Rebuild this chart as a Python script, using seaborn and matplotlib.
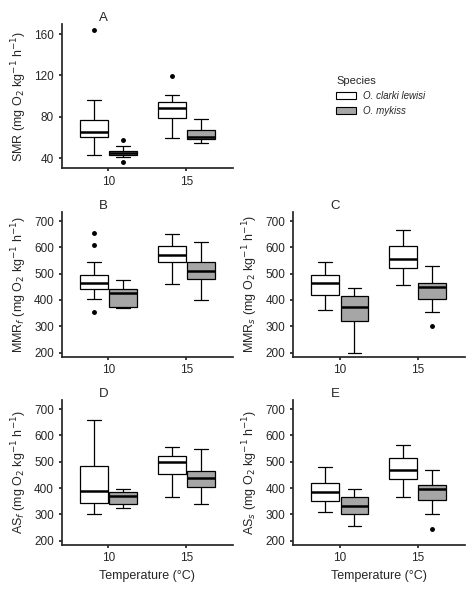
import matplotlib
matplotlib.use("Agg")
import matplotlib.pyplot as plt
import seaborn as sns
import pandas as pd
from matplotlib.patches import Patch

temps = ["10", "15"]
species = ["O. clarki lewisi", "O. mykiss"]
# per group: (min, q1, median, q3, max, outliers)
smr = {("10", species[0]): (43, 60, 65, 77, 96, [164]),
       ("10", species[1]): (41, 43, 45, 47, 52, [57, 36]),
       ("15", species[0]): (59, 79, 88, 94, 101, [119]),
       ("15", species[1]): (55, 58, 60, 67, 78, [])}
mmr_f = {("10", species[0]): (405, 440, 465, 495, 545, [610, 655, 355]),
         ("10", species[1]): (370, 375, 425, 440, 475, []),
         ("15", species[0]): (460, 545, 570, 605, 650, []),
         ("15", species[1]): (400, 480, 510, 545, 620, [])}
mmr_s = {("10", species[0]): (360, 420, 465, 495, 545, []),
         ("10", species[1]): (200, 320, 375, 415, 445, []),
         ("15", species[0]): (455, 520, 555, 605, 665, []),
         ("15", species[1]): (355, 405, 450, 465, 530, [300])}
as_f = {("10", species[0]): (300, 345, 390, 485, 660, []),
        ("10", species[1]): (325, 340, 370, 385, 395, []),
        ("15", species[0]): (365, 455, 500, 520, 555, []),
        ("15", species[1]): (340, 405, 440, 465, 550, [])}
as_s = {("10", species[0]): (310, 350, 385, 420, 480, []),
        ("10", species[1]): (255, 300, 330, 365, 395, []),
        ("15", species[0]): (365, 435, 470, 515, 565, []),
        ("15", species[1]): (300, 355, 395, 410, 470, [245])}

def to_df(d):
    rows = []
    for (t, s), (mn, q1, md, q3, mx, outs) in d.items():
        vals = [mn] + [q1] * 4 + [md] * 4 + [q3] * 4 + [mx] + outs
        rows += [(t, s, v) for v in vals]
    return pd.DataFrame(rows, columns=["Temperature", "Species", "value"])

sns.set_theme(style="white")
plt.rcParams['font.family'] = ['Liberation Sans', 'DejaVu Sans']
fig, axes = plt.subplots(3, 2, figsize=(4.74, 5.92), dpi=100)
pal = {species[0]: "white", species[1]: "#a6a6a6"}
panels = [(axes[0, 0], smr, "A", "SMR (mg O$_2$ kg$^{-1}$ h$^{-1}$)"),
          (axes[1, 0], mmr_f, "B", "MMR$_f$ (mg O$_2$ kg$^{-1}$ h$^{-1}$)"),
          (axes[1, 1], mmr_s, "C", "MMR$_s$ (mg O$_2$ kg$^{-1}$ h$^{-1}$)"),
          (axes[2, 0], as_f, "D", "AS$_f$ (mg O$_2$ kg$^{-1}$ h$^{-1}$)"),
          (axes[2, 1], as_s, "E", "AS$_s$ (mg O$_2$ kg$^{-1}$ h$^{-1}$)")]
for ax, d, letter, ylab in panels:
    sns.boxplot(data=to_df(d), x="Temperature", y="value", hue="Species",
                order=temps, hue_order=species, palette=pal, ax=ax,
                linecolor="black", linewidth=0.9, width=0.75, gap=0.05,
                flierprops=dict(marker="o", markerfacecolor="black",
                                markeredgecolor="black", markersize=2.5),
                medianprops=dict(linewidth=1.8), legend=False)
    ax.set_ylabel(ylab, fontsize=9)
    ax.set_xlabel("")
    ax.set_xlim(-0.6, 1.6)
    ax.tick_params(labelsize=8.5, length=2, left=True, bottom=True)
    sns.despine(ax=ax)
    ax.text(0.22, 1.02, letter, transform=ax.transAxes, fontsize=9.5)
    if letter == "A":
        ax.set_ylim(30, 170)
        ax.set_yticks([40, 80, 120, 160])
    else:
        ax.set_ylim(185, 735)
        ax.set_yticks([200, 300, 400, 500, 600, 700])
for ax in axes[2]:
    ax.set_xlabel("Temperature (\u00b0C)", fontsize=9)

lax = axes[0, 1]
lax.axis("off")
handles = [Patch(facecolor=pal[s], edgecolor="black", linewidth=0.8) for s in species]
leg = lax.legend(handles, species, title="Species", loc="center left",
                 bbox_to_anchor=(0.2, 0.5), frameon=False, fontsize=7,
                 title_fontsize=8, alignment="left")
for t in leg.get_texts():
    t.set_fontstyle("italic")

fig.subplots_adjust(left=0.13, right=0.98, top=0.96, bottom=0.08, wspace=0.35, hspace=0.3)
fig.savefig("out.png", dpi=100)
